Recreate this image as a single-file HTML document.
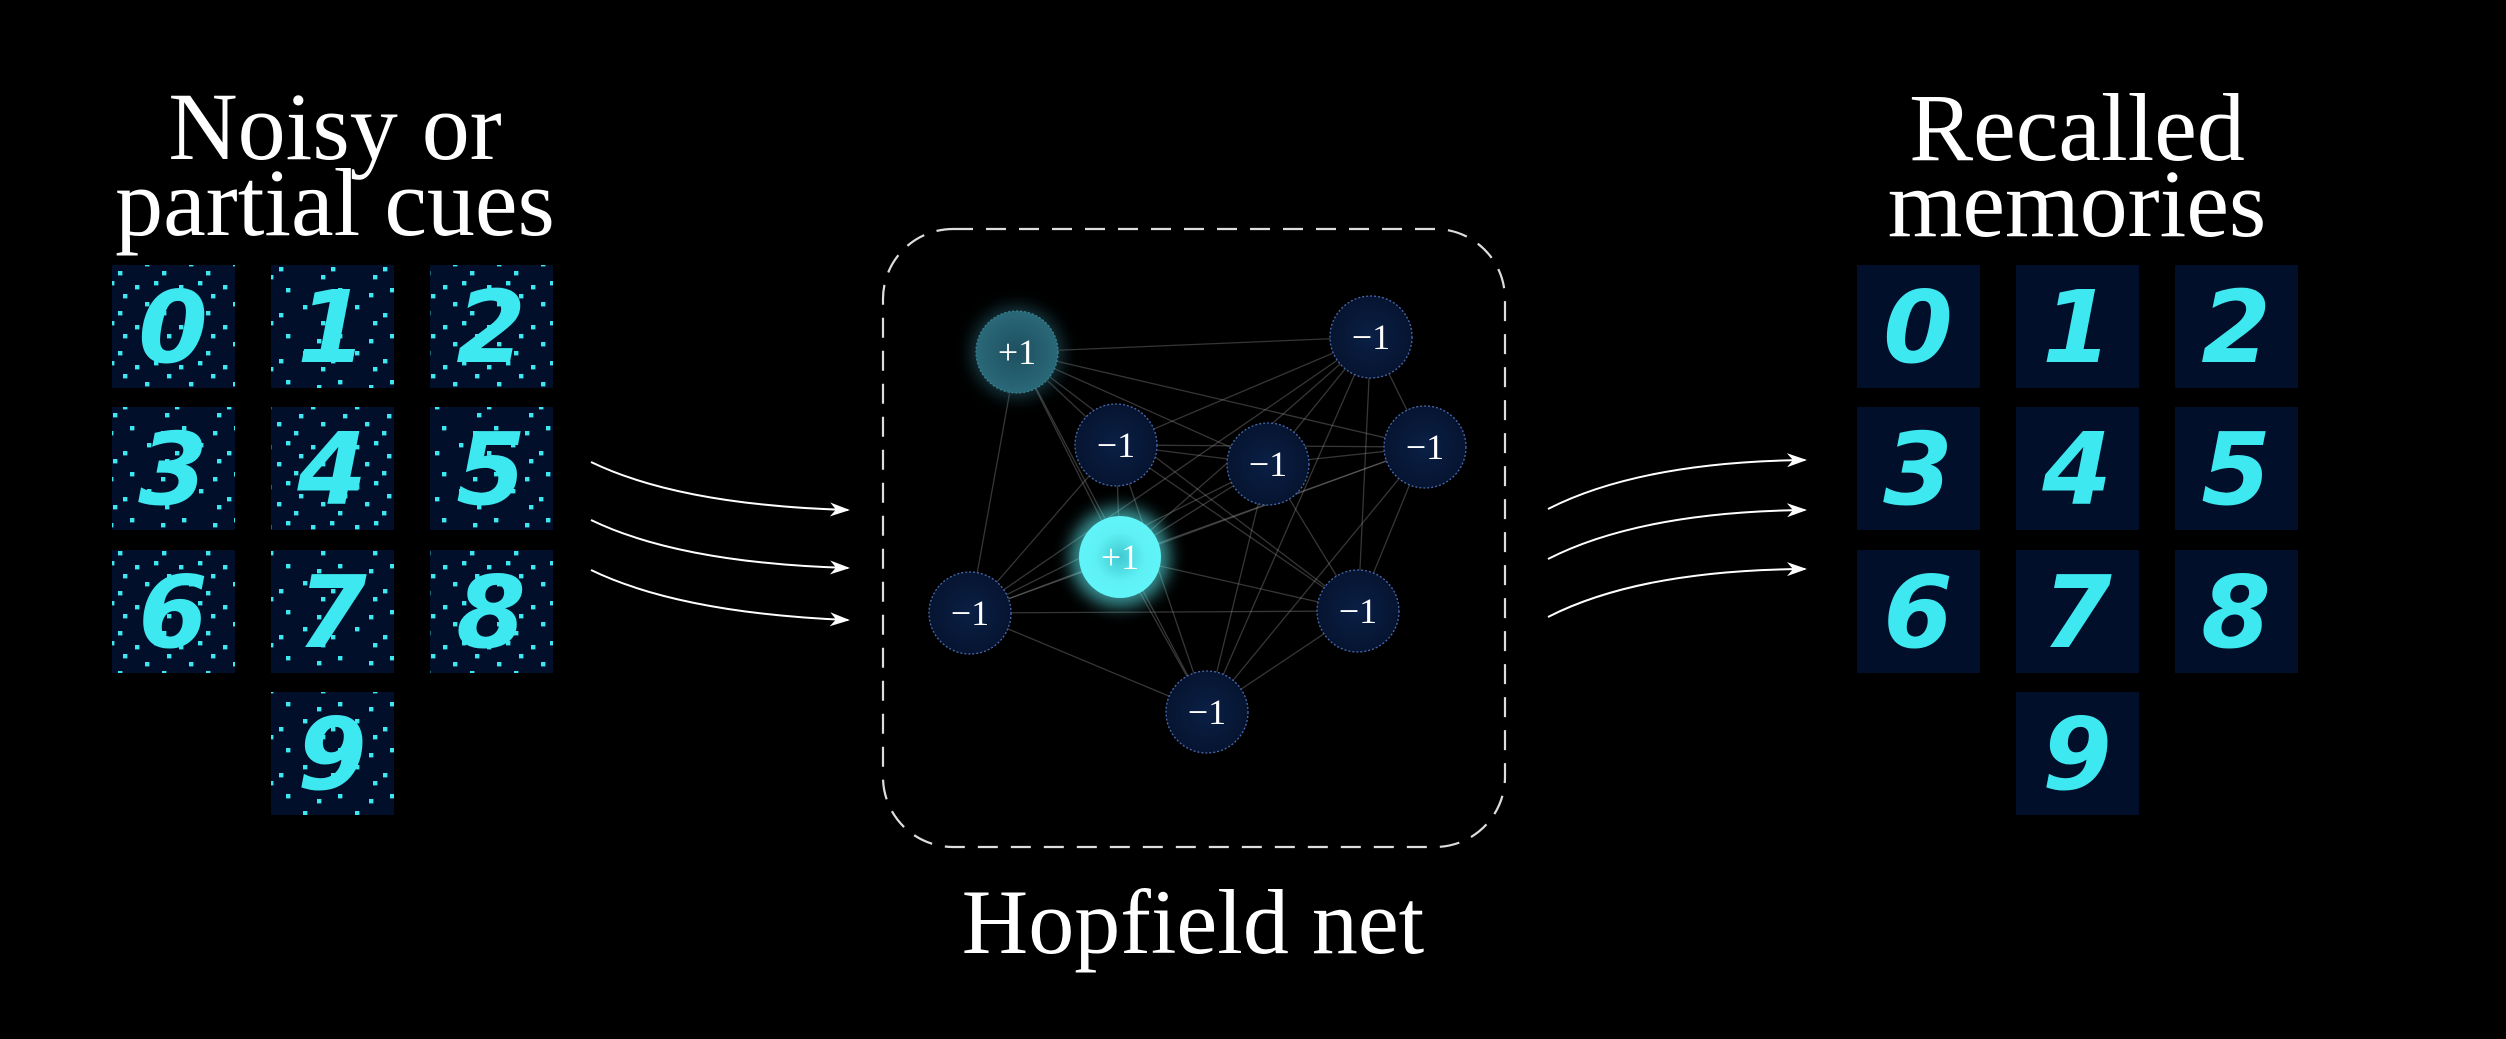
<!DOCTYPE html>
<html><head><meta charset="utf-8"><style>
html,body{margin:0;padding:0;background:#000;}
svg{display:block}
</style></head><body>
<svg width="2506" height="1039" viewBox="0 0 2506 1039" xmlns="http://www.w3.org/2000/svg">
<defs>
<pattern id="n1" width="44" height="40" patternUnits="userSpaceOnUse">
<rect x="3" y="5" width="4.4" height="4.4" fill="#3ee8f0"/>
<rect x="22" y="1" width="4.4" height="4.4" fill="#3ee8f0"/>
<rect x="35" y="14" width="4.4" height="4.4" fill="#3ee8f0"/>
<rect x="13" y="22" width="4.4" height="4.4" fill="#3ee8f0"/>
<rect x="30" y="31" width="4.4" height="4.4" fill="#3ee8f0"/>
</pattern>
<pattern id="n2" width="52" height="46" patternUnits="userSpaceOnUse" patternTransform="translate(17,9)">
<rect x="9" y="3" width="4.4" height="4.4" fill="#3ee8f0"/>
<rect x="40" y="8" width="4.4" height="4.4" fill="#3ee8f0"/>
<rect x="26" y="20" width="4.4" height="4.4" fill="#3ee8f0"/>
<rect x="2" y="28" width="4.4" height="4.4" fill="#3ee8f0"/>
<rect x="44" y="36" width="4.4" height="4.4" fill="#3ee8f0"/>
</pattern>
<radialGradient id="gb" cx="50%" cy="50%" r="50%">
<stop offset="0" stop-color="#0a2046"/><stop offset="1" stop-color="#061430"/>
</radialGradient>
<radialGradient id="gf" cx="50%" cy="50%" r="50%">
<stop offset="0" stop-color="#40c8d0"/><stop offset="0.6" stop-color="#5ef0f4"/><stop offset="1" stop-color="#60f4f8"/>
</radialGradient>
<radialGradient id="ga" cx="50%" cy="50%" r="50%">
<stop offset="0" stop-color="#1e5060"/><stop offset="1" stop-color="#2a6878"/>
</radialGradient>
<filter id="glow" x="-50%" y="-50%" width="200%" height="200%"><feGaussianBlur stdDeviation="8"/></filter>
<marker id="ah" viewBox="0 0 20 14" refX="18" refY="7" markerWidth="20" markerHeight="14" markerUnits="userSpaceOnUse" orient="auto">
<path d="M0,0 L20,7 L0,14 L6,7 Z" fill="#fff"/>
</marker>
</defs>

<g font-family="Liberation Serif, serif" fill="#fff" text-anchor="middle">
<text x="335" y="159" font-size="96">Noisy or</text>
<text x="335" y="235" font-size="96">partial cues</text>
<text x="2077" y="160" font-size="96">Recalled</text>
<text x="2077" y="236" font-size="96">memories</text>
<text x="1193" y="953" font-size="92">Hopfield net</text>
</g>

<g>
<g fill="#020f2a">
<rect x="112" y="265" width="123" height="123"/><rect x="271" y="265" width="123" height="123"/><rect x="430" y="265" width="123" height="123"/>
<rect x="112" y="407" width="123" height="123"/><rect x="271" y="407" width="123" height="123"/><rect x="430" y="407" width="123" height="123"/>
<rect x="112" y="550" width="123" height="123"/><rect x="271" y="550" width="123" height="123"/><rect x="430" y="550" width="123" height="123"/>
<rect x="271" y="692" width="123" height="123"/>
</g>
<g font-family="DejaVu Sans, sans-serif" font-weight="bold" font-style="italic" font-size="100" fill="#3ee8f0" text-anchor="middle">
<text x="173" y="362">0</text><text x="332" y="362">1</text><text x="491" y="362">2</text>
<text x="173" y="504">3</text><text x="332" y="504">4</text><text x="491" y="504">5</text>
<text x="173" y="647">6</text><text x="332" y="647">7</text><text x="491" y="647">8</text>
<text x="332" y="789">9</text>
</g>
<g>
<rect x="112" y="265" width="123" height="123" fill="url(#n1)"/><rect x="271" y="265" width="123" height="123" fill="url(#n2)"/><rect x="430" y="265" width="123" height="123" fill="url(#n1)"/>
<rect x="112" y="407" width="123" height="123" fill="url(#n2)"/><rect x="271" y="407" width="123" height="123" fill="url(#n1)"/><rect x="430" y="407" width="123" height="123" fill="url(#n2)"/>
<rect x="112" y="550" width="123" height="123" fill="url(#n1)"/><rect x="271" y="550" width="123" height="123" fill="url(#n2)"/><rect x="430" y="550" width="123" height="123" fill="url(#n1)"/>
<rect x="271" y="692" width="123" height="123" fill="url(#n2)"/>
</g>
</g>

<g fill="#020f2a">
<rect x="1857" y="265" width="123" height="123"/><rect x="2016" y="265" width="123" height="123"/><rect x="2175" y="265" width="123" height="123"/>
<rect x="1857" y="407" width="123" height="123"/><rect x="2016" y="407" width="123" height="123"/><rect x="2175" y="407" width="123" height="123"/>
<rect x="1857" y="550" width="123" height="123"/><rect x="2016" y="550" width="123" height="123"/><rect x="2175" y="550" width="123" height="123"/>
<rect x="2016" y="692" width="123" height="123"/>
</g>
<g font-family="DejaVu Sans, sans-serif" font-weight="bold" font-style="italic" font-size="100" fill="#3ee8f0" text-anchor="middle">
<text x="1918" y="362">0</text><text x="2077" y="362">1</text><text x="2236" y="362">2</text>
<text x="1918" y="504">3</text><text x="2077" y="504">4</text><text x="2236" y="504">5</text>
<text x="1918" y="647">6</text><text x="2077" y="647">7</text><text x="2236" y="647">8</text>
<text x="2077" y="789">9</text>
</g>

<g fill="none" stroke="#fff" stroke-width="2" marker-end="url(#ah)">
<path d="M591,462 Q680,505 848,510"/>
<path d="M591,520 Q680,563 848,568"/>
<path d="M591,570 Q680,613 848,620"/>
<path d="M1548,509 Q1640,462 1805,460"/>
<path d="M1548,559 Q1640,512 1805,510"/>
<path d="M1548,617 Q1640,570 1805,569"/>
</g>

<rect x="883" y="229" width="622" height="618" rx="70" ry="70" fill="none" stroke="#ddd" stroke-width="2.2" stroke-dasharray="20 13"/>

<g stroke="#9a9a9a" stroke-opacity="0.35" stroke-width="1.3">
<line x1="1017" y1="352" x2="1371" y2="337"/><line x1="1017" y1="352" x2="1116" y2="445"/><line x1="1017" y1="352" x2="1268" y2="464"/><line x1="1017" y1="352" x2="1425" y2="447"/><line x1="1017" y1="352" x2="1120" y2="557"/><line x1="1017" y1="352" x2="970" y2="613"/><line x1="1017" y1="352" x2="1358" y2="611"/><line x1="1017" y1="352" x2="1207" y2="712"/>
<line x1="1371" y1="337" x2="1116" y2="445"/><line x1="1371" y1="337" x2="1268" y2="464"/><line x1="1371" y1="337" x2="1425" y2="447"/><line x1="1371" y1="337" x2="1120" y2="557"/><line x1="1371" y1="337" x2="970" y2="613"/><line x1="1371" y1="337" x2="1358" y2="611"/><line x1="1371" y1="337" x2="1207" y2="712"/>
<line x1="1116" y1="445" x2="1268" y2="464"/><line x1="1116" y1="445" x2="1425" y2="447"/><line x1="1116" y1="445" x2="1120" y2="557"/><line x1="1116" y1="445" x2="970" y2="613"/><line x1="1116" y1="445" x2="1358" y2="611"/><line x1="1116" y1="445" x2="1207" y2="712"/>
<line x1="1268" y1="464" x2="1425" y2="447"/><line x1="1268" y1="464" x2="1120" y2="557"/><line x1="1268" y1="464" x2="970" y2="613"/><line x1="1268" y1="464" x2="1358" y2="611"/><line x1="1268" y1="464" x2="1207" y2="712"/>
<line x1="1425" y1="447" x2="1120" y2="557"/><line x1="1425" y1="447" x2="970" y2="613"/><line x1="1425" y1="447" x2="1358" y2="611"/><line x1="1425" y1="447" x2="1207" y2="712"/>
<line x1="1120" y1="557" x2="970" y2="613"/><line x1="1120" y1="557" x2="1358" y2="611"/><line x1="1120" y1="557" x2="1207" y2="712"/>
<line x1="970" y1="613" x2="1358" y2="611"/><line x1="970" y1="613" x2="1207" y2="712"/>
<line x1="1358" y1="611" x2="1207" y2="712"/>
</g>

<circle cx="1017" cy="352" r="46" fill="#2a7080" opacity="0.5" filter="url(#glow)"/>
<circle cx="1120" cy="557" r="50" fill="#5ef0f4" opacity="0.6" filter="url(#glow)"/>
<g stroke="#4a6ab0" stroke-width="1.3" stroke-dasharray="2 2">
<circle cx="1017" cy="352" r="41" fill="url(#ga)" stroke="#3a8090"/>
<circle cx="1371" cy="337" r="41" fill="url(#gb)"/>
<circle cx="1116" cy="445" r="41" fill="url(#gb)"/>
<circle cx="1268" cy="464" r="41" fill="url(#gb)"/>
<circle cx="1425" cy="447" r="41" fill="url(#gb)"/>
<circle cx="970" cy="613" r="41" fill="url(#gb)"/>
<circle cx="1358" cy="611" r="41" fill="url(#gb)"/>
<circle cx="1207" cy="712" r="41" fill="url(#gb)"/>
<circle cx="1120" cy="557" r="41" fill="url(#gf)" stroke="none"/>
</g>
<g font-family="Liberation Serif, serif" font-size="36" fill="#fff" text-anchor="middle">
<text x="1017" y="364">+1</text>
<text x="1371" y="349">−1</text>
<text x="1116" y="457">−1</text>
<text x="1268" y="476">−1</text>
<text x="1425" y="459">−1</text>
<text x="970" y="625">−1</text>
<text x="1358" y="623">−1</text>
<text x="1207" y="724">−1</text>
<text x="1120" y="569">+1</text>
</g>
</svg>
</body></html>
